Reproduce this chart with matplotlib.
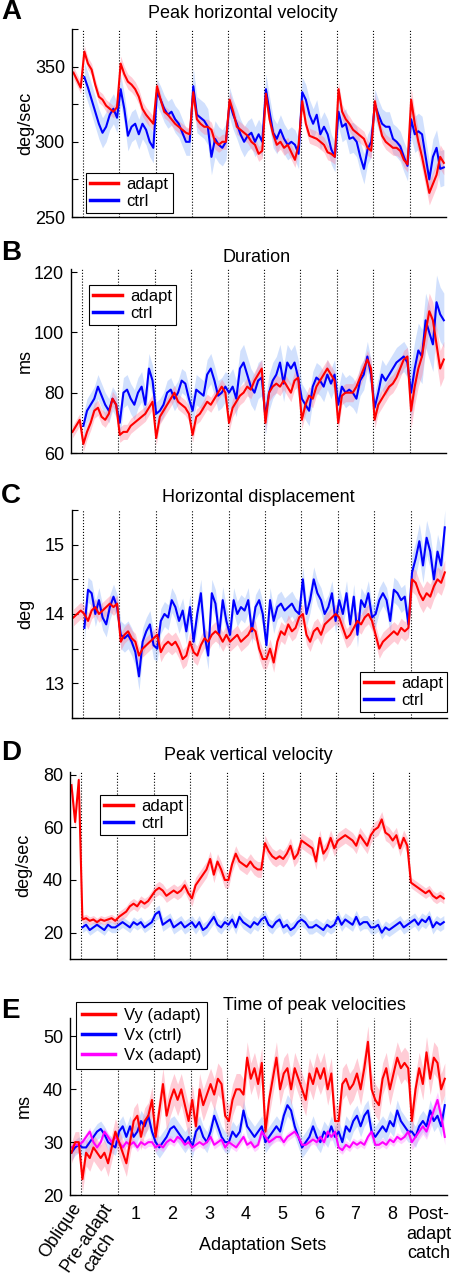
import numpy as np
import matplotlib
matplotlib.use('Agg')
import matplotlib.pyplot as plt

plt.rcParams['font.family'] = ['Liberation Sans', 'DejaVu Sans']

nan = np.nan

# segments: oblique, pre-adapt catch, adaptation sets 1-8, post-adapt catch
seg_edges = [0, 3, 13, 23, 33, 43, 53, 63, 73, 83, 93, 103]
seg_pts = [3, 10, 10, 10, 10, 10, 10, 10, 10, 10, 10]
tick_labels = ['Oblique', 'Pre-adapt\ncatch', '1', '2', '3', '4', '5', '6', '7', '8',
               'Post-\nadapt\ncatch']

# A: peak horizontal velocity (deg/sec)
a_adapt = [346, 341, 336,
           360, 352, 348, 338, 330, 328, 324, 322, 320, 323,
           352, 345, 340, 338, 335, 330, 322, 318, 315, 312,
           337, 328, 320, 318, 315, 312, 310, 308, 306, 305,
           333, 315, 312, 310, 310, 308, 300, 298, 300, 300,
           328, 320, 310, 308, 306, 304, 300, 298, 292, 294,
           332, 315, 305, 298, 300, 296, 298, 293, 288, 298,
           327, 312, 304, 303, 302, 300, 298, 293, 292, 290,
           335, 320, 315, 312, 308, 306, 304, 302, 296, 294,
           327, 314, 304, 300, 298, 296, 296, 294, 288, 285,
           328, 312, 300, 290, 278, 266, 272, 278, 290, 286]
a_ctrl = [nan, nan, nan,
          343, 336, 328, 320, 312, 306, 310, 318, 322, 316,
          335, 322, 304, 310, 312, 305, 312, 308, 300, 296,
          333, 328, 322, 318, 320, 315, 312, 306, 300, 300,
          337, 318, 316, 314, 310, 290, 302, 298, 296, 300,
          326, 318, 312, 305, 300, 304, 306, 300, 305, 300,
          335, 320, 306, 302, 308, 302, 298, 300, 298, 292,
          333, 328, 318, 312, 318, 305, 310, 305, 295, 290,
          320, 310, 312, 302, 303, 300, 290, 282, 295, 300,
          325, 318, 312, 310, 310, 302, 300, 297, 290, 284,
          315, 305, 307, 305, 290, 275, 290, 296, 282, 283]
a_adapt_sem = [4, 4, 5, 4, 5, 5, 5, 5, 5, 5, 8]
a_ctrl_sem = [0, 10, 10, 9, 12, 10, 10, 10, 10, 10, 12]

# B: duration (ms)
b_adapt = [67, 69, 71,
           63, 67, 70, 74, 75, 72, 71, 73, 78, 76,
           66, 67, 67, 69, 70, 71, 72, 73, 75, 77,
           65, 72, 74, 76, 78, 80, 77, 76, 75, 73,
           66, 72, 73, 75, 77, 76, 78, 80, 82, 80,
           70, 75, 77, 79, 80, 82, 81, 84, 86, 88,
           70, 80, 82, 83, 82, 84, 82, 80, 84, 85,
           71, 76, 79, 78, 82, 84, 86, 88, 86, 84,
           70, 79, 80, 80, 80, 82, 85, 88, 91, 88,
           71, 76, 78, 80, 82, 83, 85, 88, 91, 92,
           74, 82, 88, 92, 100, 107, 104, 96, 88, 91]
b_ctrl = [nan, nan, nan,
          69, 74, 76, 78, 82, 79, 76, 74, 78, 76,
          70, 80, 81, 78, 76, 80, 82, 76, 88, 84,
          73, 74, 76, 80, 81, 78, 80, 84, 83, 78,
          74, 81, 80, 79, 86, 88, 84, 79, 80, 82,
          80, 82, 78, 88, 90, 86, 82, 80, 84, 85,
          72, 80, 84, 86, 90, 83, 90, 88, 90, 85,
          78, 76, 74, 82, 85, 84, 82, 86, 83, 86,
          76, 82, 80, 81, 80, 78, 84, 86, 92, 86,
          75, 80, 86, 84, 86, 88, 90, 91, 92, 90,
          80, 88, 94, 92, 104, 100, 96, 110, 106, 104]
b_adapt_sem = [2, 2.5, 2.5, 2.5, 2.5, 3, 3, 3, 3, 3, 6]
b_ctrl_sem = [0, 4, 5, 4, 5, 6, 6, 5, 5, 5, 9]

# C: horizontal displacement (deg)
c_adapt = [13.95, 14.0, 14.05,
           14.0, 13.9, 14.05, 14.1, 14.0, 14.05, 14.1, 14.15, 14.1, 14.15,
           13.6, 13.7, 13.75, 13.65, 13.6, 13.4, 13.5, 13.55, 13.6, 13.65,
           13.7, 13.45, 13.55, 13.6, 13.55, 13.6, 13.5, 13.35, 13.4, 13.6,
           13.45, 13.4, 13.55, 13.65, 13.6, 13.7, 13.75, 13.7, 13.6, 13.7,
           13.6, 13.65, 13.7, 13.6, 13.65, 13.7, 13.8, 13.75, 13.5, 13.35,
           13.35, 13.5, 13.3, 13.6, 13.75, 13.7, 13.85, 13.75, 13.8, 13.95,
           14.0, 13.7, 13.6, 13.75, 13.8, 13.7, 13.85, 13.9, 13.95, 14.0,
           13.95, 13.8, 13.65, 13.7, 13.8, 13.9, 13.85, 13.95, 14.0, 13.9,
           13.7, 13.5, 13.6, 13.65, 13.7, 13.75, 13.7, 13.8, 13.75, 13.8,
           14.5, 14.45, 14.3, 14.2, 14.3, 14.25, 14.4, 14.5, 14.45, 14.6]
c_ctrl = [nan, nan, nan,
          13.8, 14.35, 14.3, 14.0, 14.2, 13.95, 13.85, 14.1, 14.25, 14.1,
          13.7, 13.65, 13.7, 13.6, 13.45, 13.1, 13.6, 13.75, 13.85, 13.55,
          13.5, 13.9, 14.0, 13.95, 14.2, 14.1, 13.9, 14.05, 13.75, 14.1,
          13.6, 14.0, 14.3, 13.7, 13.4, 14.3, 14.15, 13.7, 14.2, 13.9,
          13.7, 14.2, 14.0, 14.1, 14.05, 14.2, 13.75, 14.1, 14.2, 14.0,
          13.55, 14.2, 13.9, 14.1, 14.15, 14.05, 14.1, 14.15, 14.05, 14.0,
          14.5, 14.0, 14.2, 14.5, 14.3, 14.2, 14.0, 14.1, 14.3, 13.9,
          14.2, 14.0, 14.3, 13.85, 14.25, 13.7, 14.2, 14.1, 14.3, 13.95,
          14.0, 14.2, 14.3, 14.2, 13.9, 14.35, 14.3, 14.2, 14.25, 13.85,
          14.6, 14.8, 15.05, 14.7, 15.1, 14.9, 14.5, 14.9, 14.7, 15.25]
c_adapt_sem = [0.12, 0.12, 0.12, 0.14, 0.14, 0.14, 0.14, 0.14, 0.14, 0.14, 0.18]
c_ctrl_sem = [0, 0.18, 0.2, 0.18, 0.2, 0.18, 0.18, 0.18, 0.18, 0.18, 0.25]

# D: peak vertical velocity (deg/sec)
d_adapt = [76, 62, 78,
           25, 25.5, 24.5, 25, 24, 25, 24.5, 25, 25.5, 24.5,
           26, 27, 28, 30, 31, 30, 32, 31, 32, 34,
           36, 37, 36, 34, 35, 36, 35, 36, 38, 35,
           33, 38, 40, 42, 44, 48, 42, 47, 44, 40,
           40, 46, 50, 47, 46, 45, 47, 45, 44, 44,
           54, 51, 49, 48, 49, 48, 50, 53, 48, 50,
           55, 54, 53, 52, 47, 56, 50, 52, 56, 52,
           55, 56, 57, 56, 55, 53, 57, 55, 53, 57,
           59, 60, 63, 58, 57, 55, 57, 52, 56, 53,
           39, 38, 37, 36, 35, 36, 34, 33, 34, 33]
d_ctrl = [nan, nan, nan,
          22, 23, 21, 22, 23, 22, 21, 23, 22, 22,
          23, 24, 23, 22, 24, 23, 24, 22, 23, 24,
          27, 28, 23, 24, 25, 22, 23, 24, 22, 23,
          24, 22, 24, 21, 22, 24, 26, 23, 22, 24,
          23, 25, 22, 26, 24, 23, 22, 24, 23, 25,
          26, 23, 22, 24, 25, 22, 23, 21, 22, 24,
          25, 24, 22, 22, 23, 22, 21, 23, 22, 23,
          26, 23, 25, 24, 23, 26, 23, 24, 24, 22,
          22, 23, 20, 22, 21, 22, 23, 24, 22, 23,
          24, 25, 23, 25, 24, 26, 22, 24, 23, 24]
d_adapt_sem = [3, 1.5, 2, 2.5, 3, 3, 3, 3, 3, 3, 2]
d_ctrl_sem = [0, 2, 2, 2.5, 2.5, 2.5, 2.5, 2.5, 2.5, 2.5, 2.5]

# E: time of peak velocities (ms)
e_vy_adapt = [28, 30, 30,
              23, 28, 27, 29, 28, 27, 28, 26, 29, 32,
              30, 28, 26, 30, 34, 35, 31, 34, 35, 38,
              31, 36, 41, 35, 38, 40, 38, 40, 37, 34,
              38, 33, 40, 37, 39, 41, 39, 42, 41, 35,
              34, 38, 40, 40, 39, 46, 42, 44, 41, 45,
              32, 38, 42, 46, 40, 43, 44, 40, 44, 42,
              40, 38, 43, 41, 44, 42, 44, 40, 43, 34,
              34, 41, 42, 40, 41, 43, 40, 44, 49, 40,
              38, 37, 42, 44, 40, 43, 46, 44, 45, 44,
              34, 40, 44, 41, 47, 42, 46, 45, 40, 42]
e_vx_ctrl = [28, 29, 29.5,
             29, 29, 30, 31, 32, 32.5, 31.5, 30, 29.5, 29,
             32, 33, 31, 33, 31, 32, 34, 33, 35, 32,
             30, 29, 30, 31, 32.5, 33, 32, 31, 30, 31,
             29, 32, 33, 31, 30, 32, 35, 33, 31, 30,
             30, 32, 31, 32, 36, 33, 32, 31, 32, 33,
             30, 31, 32, 33, 32, 35, 37, 36, 33, 31,
             29, 30, 31, 33, 31, 30, 32, 31, 33, 31,
             32, 30, 33, 32, 34, 35, 33, 35, 36, 32,
             31, 32, 33, 32, 34, 33, 36, 34, 33, 32,
             32, 31, 33, 34, 33, 36, 34, 35, 33, 37]
e_vx_adapt = [29, 29.5, 29.5,
              30, 31, 32, 30, 29, 30, 32, 31, 30, 31,
              30, 29, 30, 29.5, 30, 29, 30, 29.5, 30, 30,
              29, 29.5, 29, 30, 30.5, 30, 31, 30.5, 29.5, 30,
              29, 29.5, 30, 29.5, 30, 31, 29.5, 30, 30.5, 29,
              30, 29.5, 29, 30, 31, 29.5, 30, 29, 29.5, 32,
              31, 30, 30.5, 31, 31, 30, 31, 31.5, 32, 31,
              29.5, 29.5, 30, 30.5, 30, 31, 30, 32, 31, 32,
              29, 28.5, 29.5, 29, 30, 29.5, 30, 29.5, 31, 32,
              29.5, 29.5, 30, 29.5, 30.5, 30, 31, 30.5, 31, 32,
              30, 31, 32, 33, 32, 34, 36, 38, 35, 31]
e_vy_adapt_sem = [2, 2.5, 2.5, 3, 3, 3, 3, 3, 3, 3, 3]
e_vx_ctrl_sem = [1.5, 1.5, 2, 2, 2, 2, 2, 2, 2, 2, 2]
e_vx_adapt_sem = [0.8, 0.8, 0.8, 0.8, 0.8, 0.8, 0.8, 0.8, 0.8, 0.8, 1.5]

# x position of each trial bin inside its segment
x = np.concatenate([seg_edges[i] + np.arange(n) + 0.4 for i, n in enumerate(seg_pts)])
centers = [(seg_edges[i] + seg_edges[i + 1]) / 2 for i in range(len(seg_pts))]

RED, BLUE, MAG = (1, 0, 0), (0, 0, 1), (1, 0, 1)
RED_BAND, BLUE_BAND, MAG_BAND = (1, 0.5, 0.6), (0.55, 0.7, 0.98), (1, 0.55, 1)

W, H = 458, 1280
fig = plt.figure(figsize=(W / 100, H / 100), dpi=100)


def panel(l, t, r, b):
    return fig.add_axes([l / W, 1 - b / H, (r - l) / W, (b - t) / H])


def draw(ax, series):
    for y, sem, col, band in series:
        y = np.asarray(y, float)
        h = np.repeat(sem, seg_pts)
        ok = ~np.isnan(y)
        ax.fill_between(x[ok], (y - h)[ok], (y + h)[ok], color=band, alpha=0.4, lw=0)
    for y, sem, col, band in series:
        ax.plot(x, y, color=col, lw=1.5)


def style(ax, ylim, yticks, ylabels, ylab):
    ax.set_xlim(0, 103)
    ax.set_ylim(*ylim)
    for b in seg_edges[1:-1]:
        ax.axvline(b, color='k', ls=':', lw=0.8, zorder=0)
    ax.spines['top'].set_visible(False)
    ax.spines['right'].set_visible(False)
    for s in ('left', 'bottom'):
        ax.spines[s].set_linewidth(1.0)
    ax.set_yticks(yticks)
    ax.set_yticklabels(ylabels)
    ax.tick_params(axis='y', direction='in', length=4, labelsize=13, pad=5)
    ax.set_xticks([])
    ax.set_ylabel(ylab, fontsize=13)
    ax.yaxis.set_label_coords(-0.10, 0.5)


def legend(ax, labels, colors, loc, anchor, spacing=0.1, bpad=0.25, hlen=1.7):
    handles = [plt.Line2D([], [], color=c, lw=2.5) for c in colors]
    leg = ax.legend(handles, labels, loc=loc, bbox_to_anchor=anchor, fontsize=12,
                    frameon=True, fancybox=False, framealpha=1, edgecolor='k',
                    borderaxespad=0, handlelength=hlen, handletextpad=0.5,
                    labelspacing=spacing, borderpad=bpad)
    leg.get_frame().set_linewidth(0.8)


def ftext(px, py, s, **kw):
    fig.text(px / W, 1 - py / H, s, **kw)


# A
axA = panel(72, 29, 446, 217)
draw(axA, [(a_ctrl, a_ctrl_sem, BLUE, BLUE_BAND),
           (a_adapt, a_adapt_sem, RED, RED_BAND)])
style(axA, (250, 375), [250, 275, 300, 325, 350, 375],
      ['250', '', '300', '', '350', ''], 'deg/sec')
legend(axA, ['adapt', 'ctrl'], [RED, BLUE], 'lower left', (0.037, 0.021))

# B
axB = panel(71, 269, 446, 453)
draw(axB, [(b_ctrl, b_ctrl_sem, BLUE, BLUE_BAND),
           (b_adapt, b_adapt_sem, RED, RED_BAND)])
style(axB, (60, 121), [60, 80, 100, 120], ['60', '80', '100', '120'], 'ms')
legend(axB, ['adapt', 'ctrl'], [RED, BLUE], 'upper left', (0.048, 0.913))

# C
axC = panel(72, 510, 447, 718)
draw(axC, [(c_ctrl, c_ctrl_sem, BLUE, BLUE_BAND),
           (c_adapt, c_adapt_sem, RED, RED_BAND)])
style(axC, (12.5, 15.5), [12.5, 13, 13.5, 14, 14.5, 15, 15.5],
      ['', '13', '', '14', '', '15', ''], 'deg')
legend(axC, ['adapt', 'ctrl'], [RED, BLUE], 'lower right', (1.0, 0.029))

# D
axD = panel(70, 772, 446, 959)
draw(axD, [(d_ctrl, d_ctrl_sem, BLUE, BLUE_BAND),
           (d_adapt, d_adapt_sem, RED, RED_BAND)])
style(axD, (10, 81), [20, 40, 60, 80], ['20', '40', '60', '80'], 'deg/sec')
legend(axD, ['adapt', 'ctrl'], [RED, BLUE], 'upper left', (0.08, 0.877))

# E
axE = panel(70, 1018, 447, 1195)
draw(axE, [(e_vx_ctrl, e_vx_ctrl_sem, BLUE, BLUE_BAND),
           (e_vx_adapt, e_vx_adapt_sem, MAG, MAG_BAND),
           (e_vy_adapt, e_vy_adapt_sem, RED, RED_BAND)])
style(axE, (20, 53.5), [20, 30, 40, 50], ['20', '30', '40', '50'], 'ms')
legend(axE, ['Vy (adapt)', 'Vx (ctrl)', 'Vx (adapt)'], [RED, BLUE, MAG],
       'upper left', (0.016, 1.09), spacing=0.3, bpad=0.35, hlen=2.0)

# x labels: set numbers and post-adapt as ticks, the first ones slanted
axE.set_xticks(centers[2:])
axE.set_xticklabels(tick_labels[2:], fontsize=13, multialignment='center')
axE.tick_params(axis='x', length=0, pad=8)
slanted = [(centers[0], 'Oblique', -3, -3.6),
           (centers[1], tick_labels[1].split('\n')[0], 1.8, -3.6),
           (centers[1], tick_labels[1].split('\n')[1], 4, -25)]
for c, lab, dx, dy in slanted:
    axE.annotate(lab, xy=(c, 0), xycoords=('data', 'axes fraction'),
                 xytext=(dx, dy), textcoords='offset points', fontsize=13,
                 rotation=56, rotation_mode='anchor', ha='right', va='top')
ftext(263, 1245, 'Adaptation Sets', fontsize=13, ha='center', va='center')

# titles and panel letters
ftext(243, 14, 'Peak horizontal velocity', fontsize=13, ha='center', va='center')
ftext(257, 257, 'Duration', fontsize=13, ha='center', va='center')
ftext(258, 497, 'Horizontal displacement', fontsize=13, ha='center', va='center')
ftext(248, 755, 'Peak vertical velocity', fontsize=13, ha='center', va='center')
ftext(314, 1005, 'Time of peak velocities', fontsize=13, ha='center', va='center')
for letter, py in zip('ABCDE', [12, 253, 496, 753, 1011]):
    ftext(1, py, letter, fontsize=20, fontweight='bold', ha='left', va='center')

fig.savefig('out.png', dpi=100)
